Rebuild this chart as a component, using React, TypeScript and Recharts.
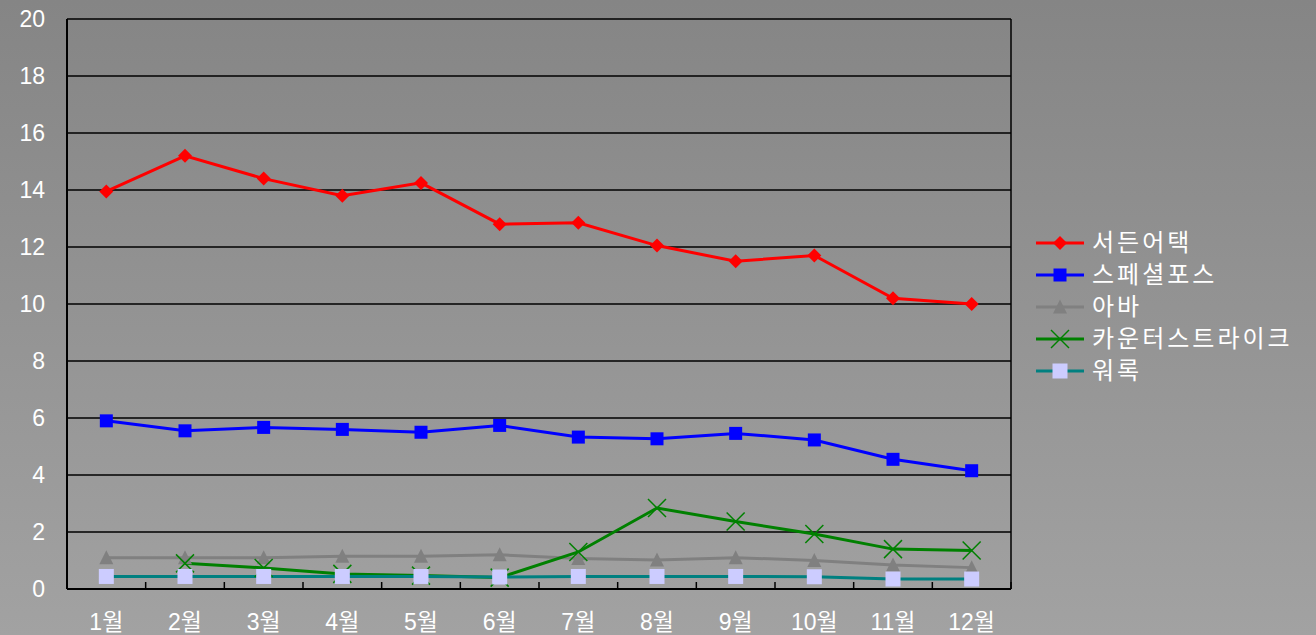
import React from 'react';
import { LineChart, Line, XAxis, YAxis, CartesianGrid, Legend } from 'recharts';

const months = ['1월', '2월', '3월', '4월', '5월', '6월', '7월', '8월', '9월', '10월', '11월', '12월'];
const suddenAttack = [13.95, 15.2, 14.4, 13.8, 14.25, 12.8, 12.85, 12.05, 11.5, 11.7, 10.2, 10.0];
const specialForce = [5.9, 5.55, 5.67, 5.6, 5.5, 5.74, 5.33, 5.27, 5.46, 5.23, 4.55, 4.15];
const ava = [1.1, 1.1, 1.1, 1.15, 1.15, 1.2, 1.07, 1.02, 1.1, 1.0, 0.84, 0.75];
const counterStrike = [null, 0.9, 0.74, 0.53, 0.47, 0.4, 1.3, 2.84, 2.37, 1.93, 1.4, 1.35];
const warRock = [0.44, 0.44, 0.44, 0.44, 0.44, 0.42, 0.44, 0.44, 0.44, 0.43, 0.35, 0.35];
const yTicks = [0, 2, 4, 6, 8, 10, 12, 14, 16, 18, 20];

const data = months.map((m, i) => ({
  month: m,
  sa: suddenAttack[i],
  sf: specialForce[i],
  ava: ava[i],
  cs: counterStrike[i],
  wr: warRock[i],
}));

const FONT = "'Liberation Sans', 'Noto Sans CJK KR', sans-serif";
const TICK_MARGIN = 25;

type MarkerKind = 'diamond' | 'square' | 'triangle' | 'cross' | 'bigSquare';

function marker(kind: MarkerKind, cx: number, cy: number, color: string, key?: React.Key) {
  switch (kind) {
    case 'diamond':
      return (
        <polygon key={key} points={`${cx},${cy - 7} ${cx + 7},${cy} ${cx},${cy + 7} ${cx - 7},${cy}`} fill={color} />
      );
    case 'square':
      return <rect key={key} x={cx - 6.5} y={cy - 6.5} width={13} height={13} fill={color} />;
    case 'triangle':
      return (
        <polygon key={key} points={`${cx},${cy - 7.5} ${cx + 7},${cy + 6.5} ${cx - 7},${cy + 6.5}`} fill={color} />
      );
    case 'cross':
      return (
        <g key={key} stroke={color} strokeWidth={1.5}>
          <line x1={cx - 9} y1={cy - 9} x2={cx + 9} y2={cy + 9} />
          <line x1={cx - 9} y1={cy + 9} x2={cx + 9} y2={cy - 9} />
        </g>
      );
    default:
      return <rect key={key} x={cx - 7.5} y={cy - 7.5} width={15} height={15} fill={color} />;
  }
}

const series = [
  { key: 'sa', name: '서든어택', stroke: '#ff0000', mark: 'diamond' as MarkerKind, markColor: '#ff0000' },
  { key: 'sf', name: '스페셜포스', stroke: '#0000ff', mark: 'square' as MarkerKind, markColor: '#0000ff' },
  { key: 'ava', name: '아바', stroke: '#808080', mark: 'triangle' as MarkerKind, markColor: '#808080' },
  { key: 'cs', name: '카운터스트라이크', stroke: '#008000', mark: 'cross' as MarkerKind, markColor: '#008000' },
  { key: 'wr', name: '워록', stroke: '#008080', mark: 'bigSquare' as MarkerKind, markColor: '#ccccff' },
];

function LegendBox() {
  return (
    <div style={{ fontFamily: FONT, fontSize: 24, color: '#fff', letterSpacing: 3 }}>
      {series.map((s) => (
        <div key={s.key} style={{ display: 'flex', alignItems: 'center', height: 32 }}>
          <svg width={50} height={24}>
            <line x1={1} y1={12} x2={49} y2={12} stroke={s.stroke} strokeWidth={3} />
            {marker(s.mark, 25, 12, s.markColor)}
          </svg>
          <span style={{ marginLeft: 7, lineHeight: '32px' }}>{s.name}</span>
        </div>
      ))}
    </div>
  );
}

// month label plus the small separator tick at the right edge of its band
function MonthTick(props: any) {
  const { x, y, payload, width, visibleTicksCount } = props;
  const band = (width || 944) / (visibleTicksCount || months.length);
  const axisY = y - TICK_MARGIN;
  return (
    <g>
      <line x1={x + band / 2} y1={axisY} x2={x + band / 2} y2={axisY - 7} stroke="#000" strokeWidth={1.5} />
      <text x={x} y={y} dy="0.71em" textAnchor="middle" fill="#fff" fontSize={23} fontFamily={FONT}>
        {payload.value}
      </text>
    </g>
  );
}

export default function App() {
  return (
    <div
      style={{
        position: 'absolute',
        left: 0,
        top: 0,
        width: 1316,
        height: 635,
        background: 'linear-gradient(to bottom, #858585 0%, #a2a2a2 100%)',
      }}
    >
      <LineChart width={1303} height={635} data={data} margin={{ top: 19, right: 292, bottom: 0, left: 0 }}>
        <CartesianGrid
          stroke="#000"
          strokeWidth={1.5}
          strokeOpacity={1}
          verticalCoordinatesGenerator={({ offset }: any) => [offset.left + offset.width]}
        />
        <XAxis
          dataKey="month"
          scale="band"
          height={46}
          axisLine={{ stroke: '#000', strokeWidth: 2 }}
          tickLine={false}
          tickSize={0}
          tickMargin={TICK_MARGIN}
          interval={0}
          tick={<MonthTick />}
        />
        <YAxis
          domain={[0, 20]}
          ticks={yTicks}
          width={67}
          axisLine={{ stroke: '#000', strokeWidth: 2 }}
          tickLine={false}
          tickSize={0}
          tickMargin={22}
          interval={0}
          tick={{ fill: '#fff', fontSize: 23, fontFamily: FONT }}
        />
        <Legend
          layout="vertical"
          align="center"
          verticalAlign="middle"
          wrapperStyle={{ left: 1035, top: 227, width: 280 }}
          content={() => <LegendBox />}
        />
        {series.map((s) => (
          <Line
            key={s.key}
            dataKey={s.key}
            name={s.name}
            stroke={s.stroke}
            strokeWidth={3}
            isAnimationActive={false}
            dot={(p: any) =>
              p.cy == null || p.value == null ? <g key={p.index} /> : marker(s.mark, p.cx, p.cy, s.markColor, p.index)
            }
            activeDot={false}
          />
        ))}
      </LineChart>
    </div>
  );
}
